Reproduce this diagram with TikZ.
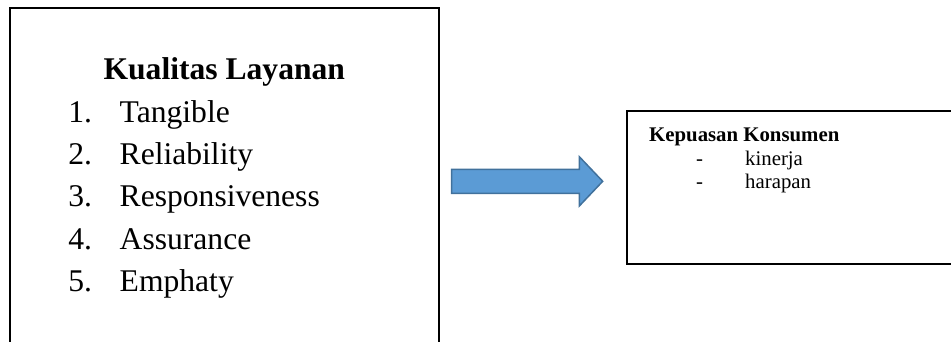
\documentclass[tikz,border=0pt]{standalone}
\usepackage{fontspec}
\setmainfont{Liberation Serif}
\definecolor{arrowfill}{HTML}{5B9BD5}
\definecolor{arrowline}{HTML}{41719C}
\tikzset{
  frame/.style={draw=black, line width=2.2pt, fill=none},
  bigtext/.style={anchor=base west, inner sep=0pt, font=\fontsize{31.6}{38}\selectfont},
  smalltext/.style={anchor=base west, inner sep=0pt, font=\fontsize{20.8}{25}\selectfont},
  blockarrow/.style={fill=arrowfill, draw=arrowline, line width=1.5pt, line join=miter}
}
\begin{document}
\begin{tikzpicture}[x=1pt, y=-1pt]
  \useasboundingbox (0,0) rectangle (951,342);
  \clip (0,0) rectangle (951,342);

  % left box: service quality dimensions (runs past the lower edge)
  \draw[frame] (10,375) coordinate (lbl) -- (10,8) coordinate (ltl)
               -- (438.7,8) coordinate (ltr) -- (438.7,375) coordinate (lbr);
  \node[anchor=base, inner sep=0pt, font=\fontsize{31.6}{38}\selectfont\bfseries]
       (title) at (224.3,80) {Kualitas Layanan};
  \foreach \n/\t [count=\i from 0] in {1/Tangible,2/Reliability,3/Responsiveness,4/Assurance,5/Emphaty}{
    \node[bigtext] (num\n) at (68.2,122.7+42.1*\i) {\n.};
    \node[bigtext] (item\n) at (119.5,122.7+42.1*\i) {\t};
  }

  % right box: customer satisfaction (runs past the right edge)
  \draw[frame] (975,110.7) coordinate (rtr) -- (627,110.7) coordinate (rtl)
               -- (627,264) coordinate (rbl) -- (975,264) coordinate (rbr);
  \node[smalltext, font=\fontsize{20.8}{25}\selectfont\bfseries] (rtitle) at (649,141.7) {Kepuasan Konsumen};
  \node[smalltext] (d1) at (696,165.3) {-};
  \node[smalltext] (k1) at (745,165.3) {kinerja};
  \node[smalltext] (d2) at (696,188.8) {-};
  \node[smalltext] (k2) at (745,188.8) {harapan};

  % block arrow between the two boxes
  \draw[blockarrow] (451.7,169.3) -- (579.3,169.3) -- (579.3,156.7) -- (602.7,181.3)
        -- (579.3,206) -- (579.3,193.3) -- (451.7,193.3) -- cycle;
\end{tikzpicture}
\end{document}
